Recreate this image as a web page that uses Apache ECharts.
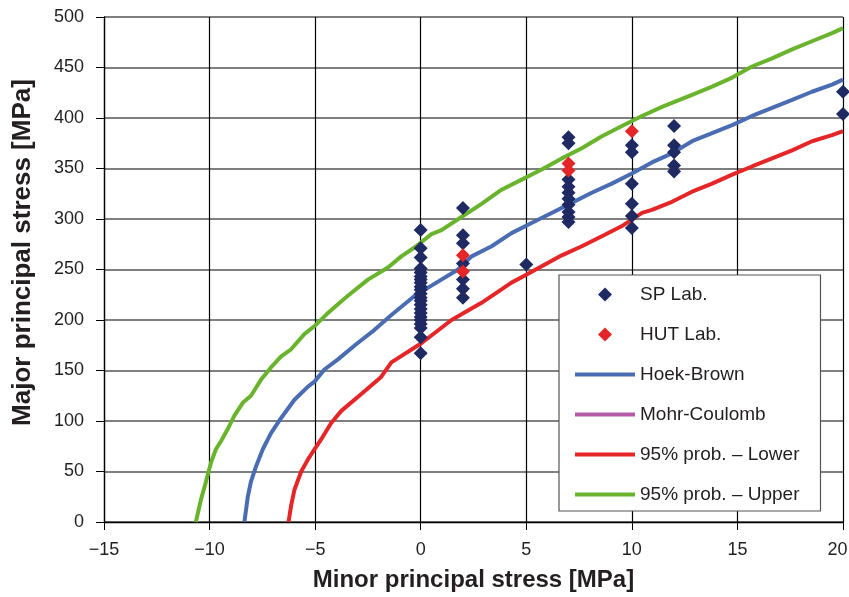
<!DOCTYPE html>
<html>
<head>
<meta charset="utf-8">
<script src="https://cdn.jsdelivr.net/npm/echarts@6/dist/echarts.min.js"></script>
<style>
  html, body { margin: 0; padding: 0; background: #fff; }
  #chart { width: 849px; height: 597px; }
</style>
</head>
<body>
<div id="chart"></div>
<script>
// Triaxial test results: minor principal stress (σ3) vs major principal stress (σ1), MPa
const spLabSigma3 = [
  0, 0, 0, 0, 0, 0, 0, 0, 0, 0, 0, 0, 0, 0, 0, 0, 0, 0, 0, 0, 0, 0,
  2, 2, 2, 2, 2, 2, 2,
  5,
  7, 7, 7, 7, 7, 7, 7, 7, 7, 7,
  10, 10, 10, 10, 10, 10,
  12, 12, 12, 12, 12,
  20, 20
];
const spLabSigma1 = [
  289, 271, 262, 251, 247, 243, 240, 237, 233, 230, 226, 222, 219, 215, 211, 207, 203, 200, 196, 192, 183, 167,
  311, 284, 276, 256, 240, 231, 222,
  255,
  381, 375, 339, 332, 326, 320, 314, 307, 302, 297,
  373, 366, 335, 315, 303, 291,
  392, 373, 366, 353, 347,
  426, 404
];

const hutLabSigma3 = [2, 2, 7, 7, 10];
const hutLabSigma1 = [264, 248, 355, 348, 387];

// Failure envelopes
const hoekBrownSigma3 = [-8.35, -8.19, -8.04, -7.80, -7.48, -7.09, -6.61, -5.98, -5.34, -5.03, -4.56, -3.92, -3.0, -2.2, -1.39, -0.28, 0.51, 1.77, 2.41, 3.36, 4.30, 5.25, 6.20, 7.15, 8.10, 9.05, 10.0, 10.95, 11.90, 12.85, 13.80, 14.75, 15.69, 16.64, 17.59, 18.53, 19.48, 20.0];
const hoekBrownSigma1 = [0, 25, 40, 55, 72, 88, 103, 121, 134, 139, 151, 161, 177, 190, 205, 224, 234, 250, 263, 273, 286, 296, 306, 316, 326, 335, 345, 356, 365, 377, 385, 393, 402, 410, 418, 426, 433, 438];

const mohrCoulombSigma3 = [];
const mohrCoulombSigma1 = [];

const lowerSigma3 = [-6.26, -6.14, -5.98, -5.66, -5.34, -5.03, -4.71, -4.24, -3.76, -2.8, -1.9, -1.39, 0.03, 1.46, 2.88, 4.30, 5.02, 6.68, 7.63, 8.58, 9.53, 10.48, 10.95, 11.90, 12.85, 13.80, 14.75, 15.69, 16.64, 17.59, 18.53, 19.48, 20.0];
const lowerSigma1 = [0, 16, 32, 50, 62, 72, 82, 98, 110, 127, 143, 158, 177, 200, 217, 237, 245, 264, 273, 283, 293, 306, 309, 317, 327, 335, 344, 352, 360, 368, 377, 383, 387];

const upperSigma3 = [-10.65, -10.41, -10.17, -9.93, -9.70, -9.46, -9.14, -8.83, -8.43, -8.04, -7.56, -7.09, -6.61, -6.14, -5.51, -5.03, -4.39, -3.84, -3.45, -2.50, -1.55, -0.92, -0.28, 0.51, 0.98, 1.93, 2.88, 3.83, 4.78, 5.73, 6.68, 7.63, 8.58, 9.53, 10.48, 11.43, 11.90, 12.85, 13.80, 14.75, 15.69, 16.64, 17.59, 18.53, 19.48, 20.0];
const upperSigma1 = [0, 22, 40, 59, 72, 80, 92, 105, 118, 125, 141, 153, 164, 171, 186, 194, 207, 217, 224, 240, 252, 263, 272, 285, 289, 302, 315, 329, 339, 349, 360, 370, 382, 392, 402, 411, 415, 423, 431, 440, 451, 459, 468, 476, 484, 489];

const seriesNames = ['SP Lab.', 'HUT Lab.', 'Hoek-Brown', 'Mohr-Coulomb', '95% prob. \u2013 Lower', '95% prob. \u2013 Upper'];

const xAxisTitle = 'Minor principal stress [MPa]';
const yAxisTitle = 'Major principal stress [MPa]';

function pairs(xs, ys) {
  return xs.map((x, i) => [x, ys[i]]);
}

const FONT = '"Liberation Sans", Arial, Helvetica, sans-serif';
const TEXT = '#231f20';
const X_MAX = 20;
// legend keys: a thin bar for the envelope curves, a square-proportioned diamond for the test points
const LINE_KEY = 'path://M0,0 L60,0 L60,4 L0,4 Z';
const DIAMOND_KEY = 'path://M7,0 L14,7 L7,14 L0,7 Z';

function envelope(name, xs, ys, color) {
  return {
    name: name,
    type: 'line',
    data: pairs(xs, ys),
    symbol: 'none',
    smooth: false,
    z: 2,
    lineStyle: { color: color, width: 4 },
    itemStyle: { color: color },
    animation: false
  };
}

const chart = echarts.init(document.getElementById('chart'), null, { renderer: 'canvas' });

chart.setOption({
  animation: false,
  backgroundColor: '#ffffff',
  textStyle: { fontFamily: FONT },
  grid: { left: 104, right: 6, top: 17, bottom: 75, containLabel: false, outerBoundsMode: 'none' },
  xAxis: {
    type: 'value',
    min: -15,
    max: X_MAX,
    interval: 5,
    name: xAxisTitle,
    nameLocation: 'middle',
    nameGap: 46,
    nameTextStyle: { fontFamily: FONT, fontSize: 24, fontWeight: 'bold', color: TEXT },
    axisLine: { show: true, onZero: false, lineStyle: { color: '#000', width: 1.3 } },
    axisTick: { show: true, inside: false, length: 8, lineStyle: { color: '#000', width: 1 } },
    axisLabel: {
      margin: 19,
      fontFamily: FONT,
      fontSize: 18,
      color: TEXT,
      // the last label is nudged inward so it stays on the canvas
      formatter: v => (v < 0 ? '\u2212' + Math.abs(v) : (v === X_MAX ? '{edge|' + v + '}' : String(v))),
      rich: {
        edge: { fontFamily: FONT, fontSize: 18, color: TEXT, padding: [0, 11, 0, 0] }
      }
    },
    splitLine: { show: true, lineStyle: { color: '#000', width: 1.2 } }
  },
  yAxis: {
    type: 'value',
    min: 0,
    max: 500,
    interval: 50,
    name: yAxisTitle,
    nameLocation: 'middle',
    nameGap: 68,
    nameRotate: 90,
    nameTextStyle: { fontFamily: FONT, fontSize: 26, fontWeight: 'bold', color: TEXT, padding: [0, 0, 0, 34] },
    axisLine: { show: true, onZero: false, lineStyle: { color: '#000', width: 1.3 } },
    axisTick: { show: true, inside: false, length: 8, lineStyle: { color: '#000', width: 1 } },
    axisLabel: { margin: 20, fontFamily: FONT, fontSize: 18, color: TEXT },
    splitLine: { show: true, lineStyle: { color: '#555', width: 1.6 } }
  },
  legend: {
    orient: 'vertical',
    left: 559,
    top: 275,
    padding: [10, 21, 7, 16],
    itemGap: 21,
    itemWidth: 60,
    itemHeight: 14,
    symbolKeepAspect: true,
    backgroundColor: '#fff',
    borderColor: '#555',
    borderWidth: 1.2,
    borderRadius: 0,
    selectedMode: false,
    textStyle: { fontFamily: FONT, fontSize: 19, color: TEXT },
    data: [
      { name: seriesNames[0], icon: DIAMOND_KEY },
      { name: seriesNames[1], icon: DIAMOND_KEY },
      { name: seriesNames[2], icon: LINE_KEY },
      { name: seriesNames[3], icon: LINE_KEY },
      { name: seriesNames[4], icon: LINE_KEY },
      { name: seriesNames[5], icon: LINE_KEY }
    ]
  },
  series: [
    envelope(seriesNames[2], hoekBrownSigma3, hoekBrownSigma1, '#4a6cb2'),
    envelope(seriesNames[3], mohrCoulombSigma3, mohrCoulombSigma1, '#b45ba6'),
    envelope(seriesNames[4], lowerSigma3, lowerSigma1, '#e42628'),
    envelope(seriesNames[5], upperSigma3, upperSigma1, '#6ab42d'),
    {
      name: seriesNames[0],
      type: 'scatter',
      data: pairs(spLabSigma3, spLabSigma1),
      symbol: 'diamond',
      symbolSize: 14,
      z: 4,
      itemStyle: { color: '#1f2a63', opacity: 1 }
    },
    {
      name: seriesNames[1],
      type: 'scatter',
      data: pairs(hutLabSigma3, hutLabSigma1),
      symbol: 'diamond',
      symbolSize: 14,
      z: 5,
      itemStyle: { color: '#e42628', opacity: 1 }
    }
  ]
});
</script>
</body>
</html>
